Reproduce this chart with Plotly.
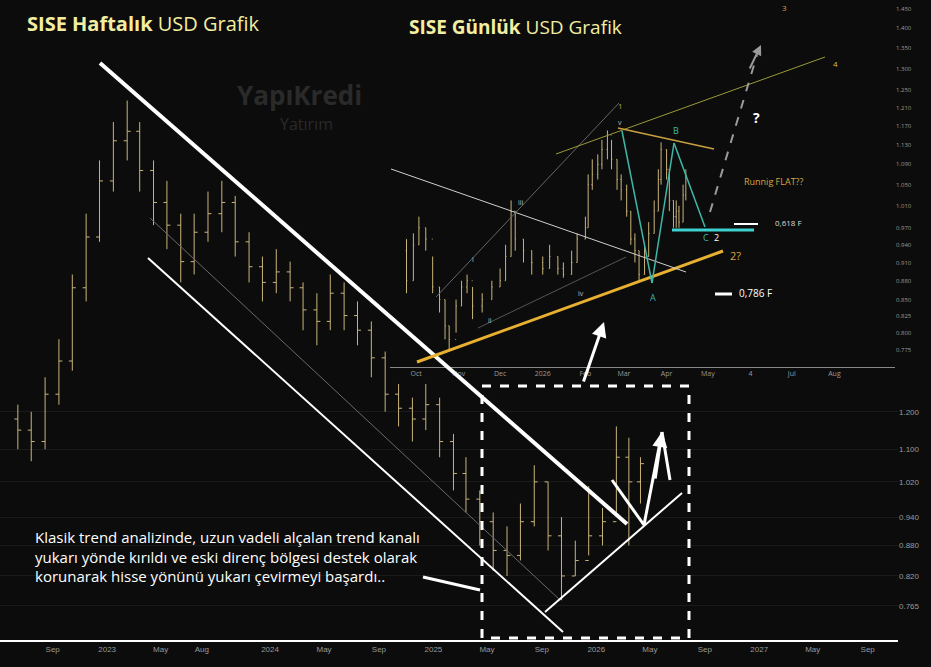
import plotly.graph_objects as go

# ---------------- weekly (monthly-sampled) main chart data ----------------
w_dates = ["2022-06-15","2022-07-15","2022-08-15","2022-09-15","2022-10-15","2022-11-15","2022-12-15",
           "2023-01-15","2023-02-15","2023-03-15","2023-04-15","2023-05-15","2023-06-15","2023-07-15",
           "2023-08-15","2023-09-15","2023-10-15","2023-11-15","2023-12-15","2024-01-15","2024-02-15",
           "2024-03-15","2024-04-15","2024-05-15","2024-06-15","2024-07-15","2024-08-15","2024-09-15",
           "2024-10-15","2024-11-15","2024-12-15","2025-01-15","2025-02-15","2025-03-15","2025-04-15",
           "2025-05-15","2025-06-15","2025-07-15","2025-08-15","2025-09-15","2025-10-15","2025-11-15",
           "2025-12-15","2026-01-15","2026-02-15","2026-03-15","2026-04-10"]
w_close = [1.15,1.12,1.25,1.35,1.60,1.80,2.05,2.25,2.30,2.10,1.95,1.85,1.70,1.82,1.90,1.95,1.78,1.68,1.62,
           1.66,1.60,1.52,1.48,1.58,1.50,1.45,1.36,1.25,1.21,1.18,1.22,1.12,1.04,0.98,0.93,0.87,0.86,0.93,
           1.02,0.90,0.82,0.85,0.90,0.93,1.08,1.02,1.064]
w_high = [1.22,1.20,1.30,1.42,1.65,1.90,2.15,2.35,2.47,2.35,2.15,2.05,1.90,1.90,2.00,2.05,1.98,1.82,1.72,
          1.75,1.70,1.62,1.58,1.65,1.62,1.55,1.48,1.38,1.28,1.24,1.28,1.24,1.14,1.08,1.00,0.95,0.92,0.97,
          1.06,1.02,0.94,0.89,1.01,0.96,1.16,1.13,1.08]
w_low = [1.10,1.07,1.10,1.22,1.32,1.55,1.78,2.00,2.15,2.00,1.85,1.75,1.62,1.65,1.78,1.82,1.72,1.62,1.55,
         1.58,1.55,1.45,1.40,1.45,1.45,1.40,1.30,1.20,1.16,1.12,1.15,1.08,1.00,0.95,0.88,0.83,0.82,0.85,
         0.92,0.87,0.775,0.82,0.86,0.88,0.95,0.88,0.97]
w_open = [1.18] + w_close[:-1]

# ---------------- daily inset data ----------------
d_dates = ["2025-09-24","2025-09-29","2025-10-03","2025-10-08","2025-10-13","2025-10-18","2025-10-22","2025-10-25",
           "2025-10-30","2025-11-03","2025-11-07","2025-11-11","2025-11-18","2025-11-25","2025-12-01","2025-12-05",
           "2025-12-09","2025-12-12","2025-12-18","2025-12-24","2026-01-01","2026-01-06","2026-01-12","2026-01-16",
           "2026-01-22","2026-01-26","2026-02-01","2026-02-03","2026-02-06","2026-02-10","2026-02-13","2026-02-17",
           "2026-02-20","2026-02-24","2026-02-27","2026-03-03","2026-03-06","2026-03-09","2026-03-12","2026-03-16",
           "2026-03-19","2026-03-23","2026-03-26","2026-03-28","2026-04-01","2026-04-03","2026-04-06","2026-04-08",
           "2026-04-10","2026-04-13","2026-04-15"]
d_close = [0.88,0.94,0.97,0.95,0.87,0.85,0.81,0.79,0.84,0.87,0.88,0.84,0.85,0.87,0.88,0.92,1.00,0.95,0.93,0.91,
           0.90,0.92,0.90,0.89,0.91,0.95,0.97,1.05,1.07,1.09,1.12,1.15,1.10,1.06,1.04,1.00,0.95,0.93,0.89,0.92,
           0.96,1.00,1.06,1.12,1.08,1.02,0.99,1.00,0.98,1.03,1.064]
d_high = [0.95,0.96,0.99,0.97,0.92,0.87,0.85,0.81,0.85,0.88,0.89,0.87,0.86,0.88,0.90,0.94,1.02,1.00,0.95,0.93,
          0.92,0.94,0.92,0.91,0.93,0.96,0.99,1.07,1.10,1.11,1.14,1.16,1.14,1.10,1.07,1.05,1.00,0.96,0.93,0.94,
          0.98,1.02,1.08,1.135,1.12,1.08,1.02,1.02,1.01,1.05,1.08]
d_low = [0.86,0.88,0.94,0.93,0.86,0.83,0.79,0.775,0.80,0.84,0.86,0.82,0.83,0.85,0.87,0.88,0.92,0.93,0.91,0.89,
         0.89,0.90,0.89,0.885,0.89,0.91,0.95,0.97,1.04,1.06,1.08,1.10,1.08,1.04,1.02,0.99,0.94,0.91,0.88,0.89,
         0.92,0.96,1.00,1.05,1.06,1.00,0.97,0.97,0.97,0.98,1.02]
d_open = [0.93] + d_close[:-1]

main_ticks = [1.2, 1.1, 1.02, 0.94, 0.88, 0.82, 0.765]
main_ticktext = ["1.200", "1.100", "1.020", "0.940", "0.880", "0.820", "0.765"]
inset_ticks = [1.45,1.40,1.35,1.30,1.25,1.21,1.17,1.13,1.09,1.05,1.01,0.97,0.94,0.91,0.88,0.85,0.825,0.80,0.775]
inset_ticktext = ["1.450","1.400","1.350","1.300","1.250","1.210","1.170","1.130","1.090","1.050","1.010",
                  "0.970","0.940","0.910","0.880","0.850","0.825","0.800","0.775"]
main_xtickvals = ["2022-09-01","2023-01-01","2023-05-01","2023-08-01","2024-01-01","2024-05-01","2024-09-01",
                  "2025-01-01","2025-05-01","2025-09-01","2026-01-01","2026-05-01","2026-09-01","2027-01-01",
                  "2027-05-01","2027-09-01"]
main_xticktext = ["Sep","2023","May","Aug","2024","May","Sep","2025","May","Sep","2026","May","Sep","2027","May","Sep"]
inset_xtickvals = ["2025-10-01","2025-11-01","2025-12-01","2026-01-01","2026-02-01","2026-03-01","2026-04-01",
                   "2026-05-01","2026-06-01","2026-07-01","2026-08-01"]
inset_xticktext = ["Oct","Nov","Dec","2026","Feb","Mar","Apr","May","4","Jul","Aug"]

BAR = "#c9b47a"
W, H, B, R = 931, 667, 27, 33
PW = W - R
PH = H - B


def px(x):
    return x / PW


def py(y):
    return (PH - y) / PH


fig = go.Figure()
fig.add_trace(go.Ohlc(x=w_dates, open=w_open, high=w_high, low=w_low, close=w_close,
                      increasing_line_color=BAR, decreasing_line_color=BAR, line_width=1,
                      tickwidth=0.3, xaxis="x", yaxis="y", showlegend=False, hoverinfo="skip"))
fig.add_trace(go.Ohlc(x=d_dates, open=d_open, high=d_high, low=d_low, close=d_close,
                      increasing_line_color=BAR, decreasing_line_color=BAR, line_width=1,
                      tickwidth=0.3, xaxis="x2", yaxis="y2", showlegend=False, hoverinfo="skip"))

tickfont = dict(color="#9a9a9a", size=8, family="Liberation Sans")
fig.update_layout(
    width=W, height=H, margin=dict(l=0, r=R, t=0, b=B),
    paper_bgcolor="#0c0c0c", plot_bgcolor="#0c0c0c",
    xaxis=dict(domain=[0, 1], range=["2022-05-06", "2027-11-08"], tickvals=main_xtickvals,
               ticktext=main_xticktext, tickfont=tickfont, showgrid=False, rangeslider=dict(visible=False),
               showline=True, linecolor="#ffffff", linewidth=2, zeroline=False),
    yaxis=dict(type="log", range=[-0.1507, 0.494], side="right", tickvals=main_ticks,
               ticktext=main_ticktext, tickfont=tickfont, gridcolor="#1a1a1a", zeroline=False),
    xaxis2=dict(domain=[px(390), px(895)], anchor="y2", range=["2025-09-12", "2026-09-14"],
                tickvals=inset_xtickvals, ticktext=inset_xticktext, tickfont=dict(color="#9a9a9a", size=7),
                showgrid=False, rangeslider=dict(visible=False), showline=True, linecolor="#888888",
                linewidth=1),
    yaxis2=dict(domain=[py(367), 1], anchor="x2", type="log", range=[-0.1244, 0.1686], side="right",
                tickvals=inset_ticks, ticktext=inset_ticktext, tickfont=dict(color="#9a9a9a", size=6),
                showgrid=False, zeroline=False),
)

shapes = []


def line(x0, y0, x1, y1, color="#ffffff", width=2, dash="solid"):
    shapes.append(dict(type="line", xref="paper", yref="paper", x0=px(x0), y0=py(y0), x1=px(x1), y1=py(y1),
                       line=dict(color=color, width=width, dash=dash)))


# main chart drawings
line(100, 63, 627, 524, width=4)
line(148, 258, 563, 632, width=2)
line(150, 218, 560, 600, color="#6a6a6a", width=1)
line(545, 612, 682, 493, width=2)
line(612, 480, 644, 525, width=3)
line(644, 525, 662, 432, width=3)
line(662, 432, 670, 480, width=3)
line(423, 577, 480, 590, width=3)
shapes.append(dict(type="rect", xref="paper", yref="paper", x0=px(482), y0=py(386), x1=px(689), y1=py(638),
                   line=dict(color="#ffffff", width=3, dash="dash")))
# inset drawings
line(417, 362, 723, 251, color="#e8b030", width=3)
line(391, 169, 686, 272, color="#d0d0d0", width=1)
line(436, 297, 619, 103, color="#666666", width=1)
line(478, 328, 626, 257, color="#555555", width=1)
line(556, 154, 825, 57, color="#9a9a3a", width=1)
line(618, 128, 714, 149, color="#c8a040", width=1.5)
line(622, 131, 652, 283, color="#3fb8a8", width=1.5)
line(652, 283, 674, 143, color="#3fb8a8", width=1.5)
line(674, 143, 705, 227, color="#3fb8a8", width=1.5)
line(672, 230, 754, 230, color="#3fd0d0", width=3)
line(734, 224, 758, 224, color="#ffffff", width=2)
line(715, 294, 732, 294, color="#ffffff", width=3)
line(710, 212, 757, 55, color="#9a9a9a", width=2, dash="dash")
fig.update_layout(shapes=shapes)

anns = []


def text(x, y, s, color="#ffffff", size=9, xanchor="left", **kw):
    anns.append(dict(xref="paper", yref="paper", x=px(x), y=py(y), text=s, showarrow=False, xanchor=xanchor,
                     yanchor="middle", font=dict(color=color, size=size, family="Open Sans"), **kw))


def arrow(x0, y0, x1, y1, color="#ffffff", width=3):
    anns.append(dict(xref="paper", yref="paper", axref="pixel", ayref="pixel", x=px(x1), y=py(y1),
                     ax=x0 - x1, ay=y0 - y1, text="", showarrow=True, arrowhead=2, arrowsize=1,
                     arrowwidth=width, arrowcolor=color))


arrow(583, 383, 604, 322)
arrow(749, 70, 761, 45, color="#9a9a9a", width=2)
arrow(655, 480, 662, 432)
text(25, 24, "<b>SISE Haftalık</b> USD Grafik", color="#f3eea0", size=20)
text(407, 27, "<b>SISE Günlük</b> USD Grafik", color="#f3eea0", size=19)
text(235, 95, "<b>YapıKredi</b>", color="#2a2a2a", size=26)
text(278, 124, "Yatırım", color="#2a2a2a", size=16)
text(33, 556, "Klasik trend analizinde, uzun vadeli alçalan trend kanalı<br>"
     "yukarı yönde kırıldı ve eski direnç bölgesi destek olarak<br>"
     "korunarak hisse yönünü yukarı çevirmeyi başardı..", size=15, align="left")
text(751, 118, "<b>?</b>", size=14)
text(742, 181, "Runnig FLAT??", color="#d9a640", size=9)
text(780, 7, "3", color="#d9a640", size=8)
text(831, 64, "4", color="#d9c040", size=8)
text(616, 105, "1", color="#b0a040", size=8)
text(616, 122, "v", color="#bbbbbb", size=7)
text(671, 130, "B", color="#3fb8a8", size=9)
text(516, 202, "iii", color="#bbbbbb", size=7)
text(470, 259, "i", color="#bbbbbb", size=7)
text(486, 320, "ii", color="#bbbbbb", size=7)
text(576, 293, "iv", color="#bbbbbb", size=7)
text(648, 297, "A", color="#3fb8a8", size=9)
text(701, 238, "C", color="#3fb8a8", size=9)
text(712, 238, "2", color="#ffffff", size=9)
text(728, 255, "2?", color="#d9a640", size=11)
text(773, 222, "0,618 F", color="#dddddd", size=8)
text(737, 293, "0,786 F", color="#ffffff", size=10)
# current price labels
anns.append(dict(xref="paper", yref="y", x=px(900), y=1.064, text="1.064", showarrow=False, xanchor="left",
                 bgcolor="#e8c060", font=dict(color="#000000", size=8)))
anns.append(dict(xref="paper", yref="y2", x=px(900), y=1.064, text="1.064", showarrow=False, xanchor="left",
                 bgcolor="#e8c060", font=dict(color="#000000", size=7)))
fig.update_layout(annotations=anns)

fig.write_html("out.html", config={"displayModeBar": False},
               post_script="document.body.style.margin='0';document.body.style.background='#0c0c0c';")
